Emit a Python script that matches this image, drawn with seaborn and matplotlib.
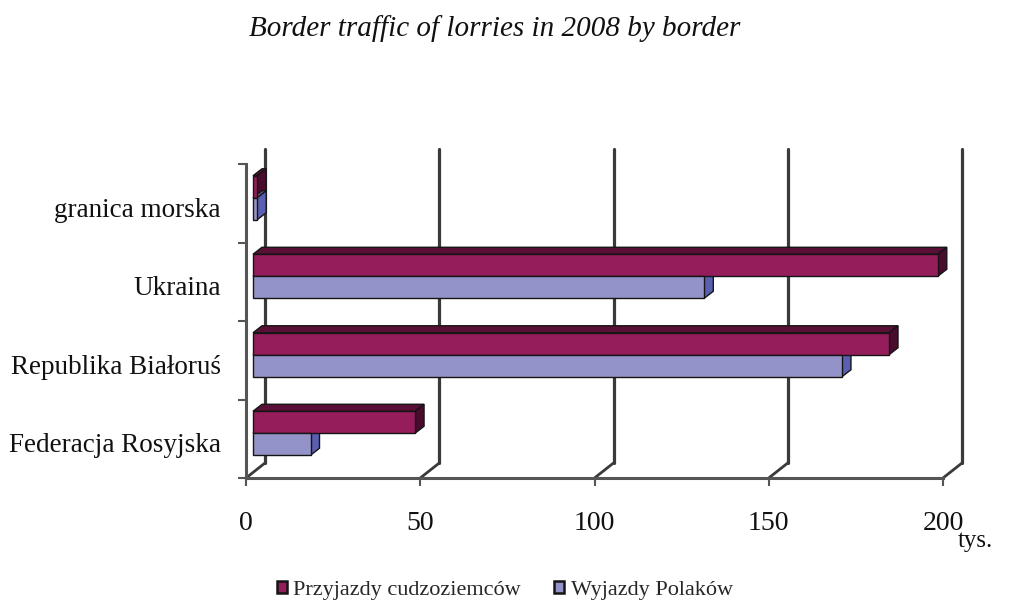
import numpy as np
import pandas as pd
import matplotlib
matplotlib.use("Agg")
import matplotlib.pyplot as plt
import seaborn as sns
from matplotlib.transforms import ScaledTranslation, IdentityTransform
from matplotlib.patches import Polygon
from matplotlib.lines import Line2D

# ---- data ----
categories = ["granica morska", "Ukraina", "Republika Białoruś", "Federacja Rosyjska"]
series = ["Przyjazdy cudzoziemców", "Wyjazdy Polaków"]
przyjazdy = [1.2, 196.5, 182.5, 46.5]
wyjazdy = [1.2, 129.5, 169.0, 16.5]
xticks = [0, 50, 100, 150, 200]
title = "Border traffic of lorries in 2008 by border"
unit = "tys."

# ---- style ----
colors_front = ["#961D5C", "#9393C9"]
colors_top = ["#5A1036", "#6B6DB8"]
colors_side = ["#4A0B2D", "#5A5FB2"]
edge = "#151515"
axis_col = "#555555"

DPI = 100
W, H = 1023, 603
sns.set_theme(style="white")
plt.rcParams["font.family"] = ["Liberation Serif", "DejaVu Serif"]

fig = plt.figure(figsize=(W / DPI, H / DPI), dpi=DPI)
ax = fig.add_axes([246 / W, 1 - 478 / H, 697 / W, 314 / H])

df = pd.DataFrame({
    "granica": categories * 2,
    "series": [series[0]] * len(categories) + [series[1]] * len(categories),
    "value": przyjazdy + wyjazdy,
})
sns.barplot(data=df, x="value", y="granica", hue="series", orient="h",
            width=0.56, palette=colors_front, saturation=1, edgecolor=edge,
            linewidth=1.0, ax=ax, zorder=3, legend=True)

ax.set_xlim(0, 200)
ax.set_ylim(len(categories) - 0.5, -0.5)
ax.set_xlabel("")
ax.set_ylabel("")

# depth geometry (pixels): back wall, bar front, bar depth
BX, BY = 19, 15
FX, FY = 7, 5.5
DX, DY = 9, 7

front_off = ax.transData + ScaledTranslation(FX / DPI, FY / DPI, fig.dpi_scale_trans)
n = len(categories)
for i, bar in enumerate(ax.patches[: 2 * n]):
    k = i // n
    bar.set_transform(front_off)
    bar.set_clip_on(False)
    x0, y0 = bar.get_x(), bar.get_y()
    w, h = bar.get_width(), bar.get_height()
    p1 = ax.transData.transform((x0, y0)) + (FX, FY)
    p2 = ax.transData.transform((x0 + w, y0 + h)) + (FX, FY)
    xl, xr = min(p1[0], p2[0]), max(p1[0], p2[0])
    yb, yt = min(p1[1], p2[1]), max(p1[1], p2[1])
    top = Polygon([(xl, yt), (xr, yt), (xr + DX, yt + DY), (xl + DX, yt + DY)],
                  closed=True, facecolor=colors_top[k], edgecolor=edge, lw=1.0,
                  transform=IdentityTransform(), clip_on=False, zorder=2)
    side = Polygon([(xr, yb), (xr, yt), (xr + DX, yt + DY), (xr + DX, yb + DY)],
                   closed=True, facecolor=colors_side[k], edgecolor=edge, lw=1.0,
                   transform=IdentityTransform(), clip_on=False, zorder=2)
    ax.add_artist(top)
    ax.add_artist(side)

# back wall gridlines + floor diagonals
back_t = ax.get_xaxis_transform() + ScaledTranslation(BX / DPI, BY / DPI, fig.dpi_scale_trans)
ybot = len(categories) - 0.5
for v in xticks:
    ax.plot([v, v], [0, 1], transform=back_t, color="#3a3a3a", lw=2.3,
            clip_on=False, zorder=1)
    p = ax.transData.transform((v, ybot))
    ax.add_artist(Line2D([p[0], p[0] + BX], [p[1], p[1] + BY], color="#3a3a3a",
                         lw=2.0, transform=IdentityTransform(), clip_on=False, zorder=1))

# spines / ticks
for s in ["top", "right"]:
    ax.spines[s].set_visible(False)
for s in ["left", "bottom"]:
    ax.spines[s].set_color(axis_col)
    ax.spines[s].set_linewidth(2.2)
    ax.spines[s].set_zorder(1)

ax.set_xticks(xticks)
ax.set_xticklabels([str(v) for v in xticks])
ax.tick_params(axis="x", which="major", bottom=True, direction="out", length=6,
               width=1.5, color=axis_col, labelsize=20, pad=18, labelcolor="#111111")

bounds = [i - 0.5 for i in range(len(categories) + 1)]
ax.set_yticks(bounds)
ax.set_yticklabels([""] * len(bounds))
ax.set_yticks(range(len(categories)), labels=categories, minor=True)
ax.tick_params(axis="y", which="major", left=True, direction="out", length=6,
               width=1.5, color=axis_col)
ax.tick_params(axis="y", which="minor", left=True, length=0, pad=18,
               labelsize=19.5, labelcolor="#111111")
shift = ScaledTranslation(0, -4 / DPI, fig.dpi_scale_trans)
for lab in ax.get_yticklabels(minor=True):
    lab.set_transform(lab.get_transform() + shift)

# legend
sns.move_legend(ax, "center", bbox_to_anchor=(505 / W, 1 - 590 / H),
                bbox_transform=fig.transFigure, ncol=2, frameon=False, title=None,
                fontsize=16, handlelength=0.45, handleheight=0.45,
                handletextpad=0.3, columnspacing=1.5)
leg = ax.get_legend()
for hnd in leg.legend_handles:
    hnd.set_edgecolor(edge)
    hnd.set_linewidth(1.8)

fig.text(495 / W, 1 - 29 / H, title, ha="center", va="center", fontsize=21,
         style="italic", color="#111111")
fig.text(958 / W, 1 - 541 / H, unit, ha="left", va="center", fontsize=18,
         color="#111111")

fig.savefig("out.png", dpi=DPI, facecolor="white")
